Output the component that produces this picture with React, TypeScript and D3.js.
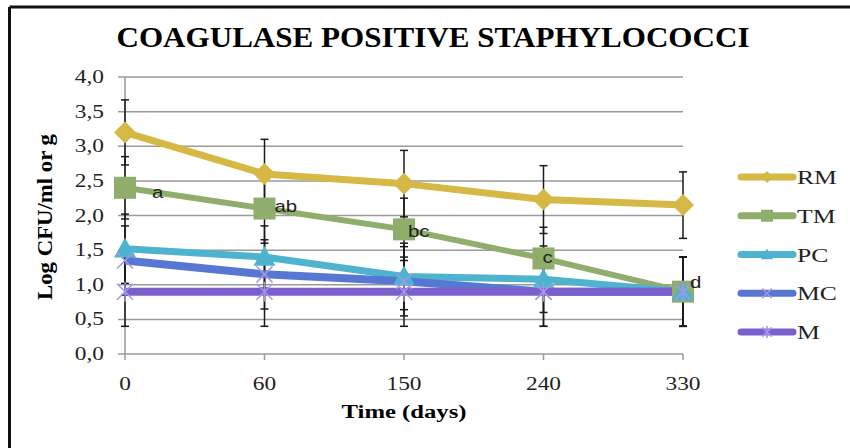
import * as d3 from 'd3';
import React from 'react';

// sampling days (categorical axis, equally spaced)
const days = ['0', '60', '150', '240', '330'];
const yTicks = [0, 0.5, 1, 1.5, 2, 2.5, 3, 3.5, 4];

const rmValues = [3.2, 2.6, 2.46, 2.23, 2.15];
const rmErrors = [0.47, 0.5, 0.48, 0.49, 0.48];
const tmValues = [2.4, 2.1, 1.8, 1.38, 0.9];
const tmErrors = [0.45, 0.5, 0.45, 0.45, 0.5];
const pcValues = [1.52, 1.4, 1.12, 1.08, 0.9];
const pcErrors = [0.5, 0.45, 0.48, 0.48, 0.5];
const mcValues = [1.35, 1.15, 1.05, 0.9, 0.9];
const mcErrors = [0.5, 0.5, 0.5, 0.5, 0.5];
const mValues = [0.9, 0.9, 0.9, 0.9, 0.9];
const mErrors = [0.5, 0.5, 0.5, 0.5, 0.5];
const tmLetters = ['a', 'ab', 'bc', 'c', 'd'];

const series = [
  {name: 'RM', values: rmValues, errors: rmErrors, color: '#d6b844', marker: 'diamond', width: 7},
  {name: 'TM', values: tmValues, errors: tmErrors, color: '#8fad6b', marker: 'square', width: 6},
  {name: 'PC', values: pcValues, errors: pcErrors, color: '#4db3cf', marker: 'triangle', width: 7},
  {name: 'MC', values: mcValues, errors: mcErrors, color: '#5777d3', marker: 'x', width: 8},
  {name: 'M', values: mValues, errors: mErrors, color: '#7b5fcd', marker: 'star', width: 8},
];

const serif = '"Liberation Serif", "Times New Roman", serif';
const sans = '"Liberation Sans", Arial, sans-serif';

function Marker({type, color, cx, cy, r}) {
  if (type === 'diamond')
    return <path d={`M${cx},${cy - r}L${cx + r},${cy}L${cx},${cy + r}L${cx - r},${cy}Z`} fill={color} />;
  if (type === 'square')
    return <rect x={cx - r} y={cy - r} width={2 * r} height={2 * r} fill={color} />;
  if (type === 'triangle')
    return <path d={`M${cx},${cy - r}L${cx + r},${cy + r * 0.8}L${cx - r},${cy + r * 0.8}Z`} fill={color} />;
  const k = r * 0.8;
  const strokeCol = '#a597e6';
  return (
    <g stroke={strokeCol} strokeWidth={1.5}>
      <line x1={cx - k} y1={cy - k} x2={cx + k} y2={cy + k} />
      <line x1={cx - k} y1={cy + k} x2={cx + k} y2={cy - k} />
      {type === 'star' && <line x1={cx} y1={cy - r} x2={cx} y2={cy + r} />}
    </g>
  );
}

export default function App() {
  const x = d3.scalePoint().domain(days).range([125, 683]);
  const y = d3.scaleLinear().domain([0, 4]).range([354, 77]);
  const line = d3.line().x((d, i) => x(days[i])).y(d => y(d));
  const labelOffsets = [[27, 10], [10, 3], [4, 8], [-1, 5], [7, -4]];
  const legendY = d3.scalePoint().domain(series.map(s => s.name)).range([177, 332]);

  return (
    <svg width={850} height={448} style={{position: 'absolute', left: 0, top: 0, background: '#fff'}}>
      {/* frame */}
      <line x1={9.5} y1={7} x2={850} y2={7} stroke="#111" strokeWidth={3} />
      <line x1={9.5} y1={7} x2={9.5} y2={448} stroke="#111" strokeWidth={3} />

      <text x={433} y={47} textAnchor="middle" fontFamily={serif} fontWeight="bold" fontSize={30}
        textLength={633} lengthAdjust="spacingAndGlyphs">COAGULASE  POSITIVE STAPHYLOCOCCI</text>

      {/* grid + y axis */}
      {yTicks.map(t => (
        <g key={t}>
          <line x1={118} x2={683} y1={y(t)} y2={y(t)} stroke="#9a9a9a" strokeWidth={1.5} />
          <text transform={`translate(104,${y(t) + 6}) scale(1.3,1)`} textAnchor="end"
            fontFamily={serif} fontSize={18} fill="#222">{d3.format('.1f')(t).replace('.', ',')}</text>
        </g>
      ))}
      <line x1={125} x2={125} y1={y(4)} y2={y(0)} stroke="#9a9a9a" strokeWidth={1.5} />
      {days.map(d => (
        <g key={d}>
          <line x1={x(d)} x2={x(d)} y1={y(0)} y2={y(0) + 6} stroke="#9a9a9a" strokeWidth={1.5} />
          <text transform={`translate(${x(d)},390) scale(1.3,1)`} textAnchor="middle"
            fontFamily={serif} fontSize={18} fill="#222">{d}</text>
        </g>
      ))}

      <text transform="translate(404,418) scale(1.3,1)" textAnchor="middle" fontFamily={serif}
        fontWeight="bold" fontSize={19}>Time (days)</text>
      <text transform="translate(52,217) rotate(-90)" textAnchor="middle" fontFamily={serif}
        fontWeight="bold" fontSize={20} textLength={166} lengthAdjust="spacingAndGlyphs">Log CFU/ml or g</text>

      {/* error bars */}
      {series.map(s => s.values.map((v, i) => {
        const cx = x(days[i]);
        const top = y(v + s.errors[i]);
        const bot = y(v - s.errors[i]);
        return (
          <g key={s.name + i} stroke="#1a1a1a" strokeWidth={1.5}>
            <line x1={cx} x2={cx} y1={top} y2={bot} />
            <line x1={cx - 4} x2={cx + 4} y1={top} y2={top} />
            <line x1={cx - 4} x2={cx + 4} y1={bot} y2={bot} />
          </g>
        );
      }))}

      {series.map(s => (
        <path key={s.name} d={line(s.values)} fill="none" stroke={s.color} strokeWidth={s.width}
          strokeLinejoin="round" />
      ))}
      {series.map(s => s.values.map((v, i) => (
        <Marker key={s.name + 'm' + i} type={s.marker} color={s.color} cx={x(days[i])} cy={y(v)}
          r={s.marker === 'x' || s.marker === 'star' ? 10 : 11} />
      )))}

      {tmLetters.map((l, i) => (
        <text key={l} transform={`translate(${x(days[i]) + labelOffsets[i][0]},${y(tmValues[i]) + labelOffsets[i][1]}) scale(1.2,1)`}
          fontFamily={sans} fontSize={17} fill="#222">{l}</text>
      ))}

      {/* legend */}
      {series.map(s => {
        const ly = legendY(s.name);
        return (
          <g key={s.name}>
            <line x1={741} x2={793} y1={ly} y2={ly} stroke={s.color} strokeWidth={7} strokeLinecap="round" />
            <Marker type={s.marker} color={s.color} cx={767} cy={ly} r={6} />
            <text transform={`translate(797,${ly + 7}) scale(1.35,1)`} fontFamily={serif} fontSize={19}
              fill="#222">{s.name}</text>
          </g>
        );
      })}
    </svg>
  );
}
